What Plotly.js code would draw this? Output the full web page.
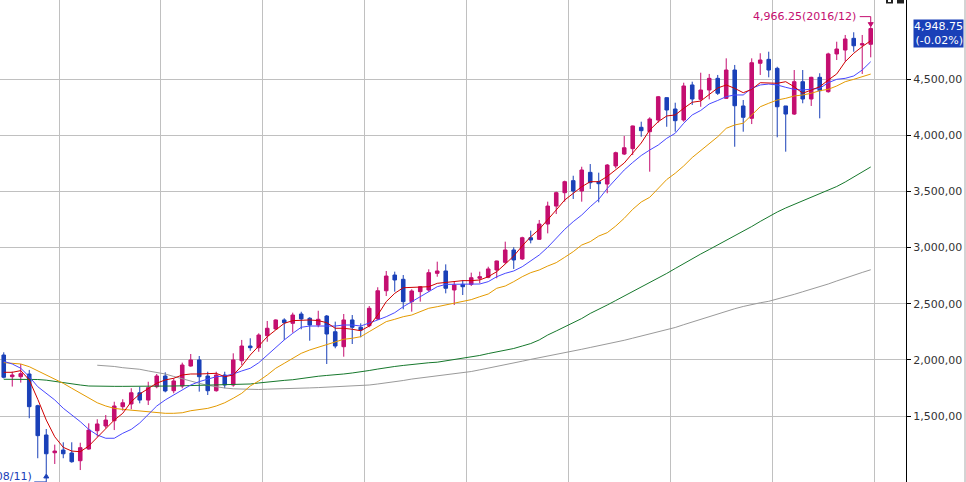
<!DOCTYPE html>
<html><head><meta charset="utf-8">
<script src="https://cdn.plot.ly/plotly-3.0.1.min.js"></script>
<style>html,body{margin:0;padding:0;background:#fff;}#chart{width:966px;height:482px;}</style>
</head><body><div id="chart"></div>
<script>
// Monthly candles, 2008/06 .. 2016/12
const firstYear = 2008, firstMonth = 6;
const openP = [2043,1850,1850,1874,1592,1331,1173,1197,1171,1102, 1206,1369,1411,1458,1583,1607,1707,1642,1761,1856, 1725,1767,1945,1999,1856,1725,1865,1776,1992,2123, 2108,2215,2275,2355,2325,2408,2370,2310,2390,2250, 2117,2355,2290,2304,2364,2615,2755,2717,2518,2607, 2622,2770,2791,2622,2672,2672,2726,2735,2800,2868, 2978,2898,3087,3073,3209,3369,3488,3595,3503,3669, 3586,3565,3726,3832,3880,4070,4031,4135,4334,4233, 4135,4447,4319,4402,4506,4328,4580,4260,4150,4640, 4675,4595,4260,4188,4476,4322,4515,4387,4723,4758, 4862,4803,4809];
const highP = [2067,1895,1963,1910,1600,1384,1245,1266,1266,1262, 1435,1471,1509,1627,1649,1747,1761,1805,1874,1889, 1836,1975,2052,2034,1894,1894,1894,2058,2177,2192, 2236,2346,2360,2370,2420,2428,2380,2437,2399,2340, 2408,2399,2325,2479,2646,2791,2785,2755,2628,2657, 2806,2874,2850,2696,2711,2776,2785,2829,2883,3052, 3002,3096,3150,3245,3408,3497,3595,3639,3719,3743, 3666,3743,3853,3993,4085,4120,4159,4349,4336,4289, 4467,4476,4556,4545,4536,4684,4625,4313,4684,4729, 4743,4609,4260,4580,4580,4520,4551,4734,4832,4892, 4916,4892,4966.25];
const lowP = [1835,1762,1797,1480,1124,984.27,1073,1124,1084,1019, 1200,1316,1390,1375,1547,1560,1613,1598,1747,1711, 1702,1747,1939,1717,1687,1717,1747,1761,1954,2081, 2072,2161,2267,2177,2242,2272,2170,2290,1963,2103, 2028,2141,2201,2290,2355,2568,2607,2450,2429,2518, 2607,2740,2592,2488,2577,2657,2681,2726,2726,2853, 2809,2889,3037,3067,3126,3298,3408,3432,3408,3521, 3402,3483,3705,3823,3823,3986,3675,4111,4075,4031, 4120,4269,4253,4319,4358,4322,3897,4031,4099,4536, 4515,3981,3853,4180,4284,4260,4150,4378,4669,4654, 4743,4545,4693];
const closeP = [1845,1865,1877,1583,1325,1164,1188,1164,1093,1218, 1375,1429,1464,1589,1618,1707,1642,1752,1856,1723, 1812,1954,1999,1850,1725,1865,1776,1999,2123,2108, 2221,2281,2355,2331,2399,2364,2310,2361,2230,2123, 2355,2290,2266,2459,2615,2746,2711,2518,2613,2651, 2776,2791,2637,2666,2651,2731,2740,2809,2880,2978, 2889,3087,3067,3209,3369,3488,3586,3503,3690,3577, 3568,3734,3844,3888,4082,4040,4144,4342,4224,4129, 4438,4322,4402,4506,4373,4580,4262,4159,4645,4669, 4580,4253,4188,4476,4322,4515,4396,4723,4767,4856, 4796,4814,4948.75];
const ma5 = [1889,1889,1904,1821,1649,1464,1315,1221,1188,1182, 1233,1310,1381,1464,1524,1628,1696,1747,1792,1821, 1836,1865,1874,1874,1874,1880,1850,1865,1945,2043, 2123,2206,2266,2325,2349,2355,2355,2349,2331,2281, 2281,2272,2259,2301,2399,2518,2592,2642,2646,2646, 2651,2681,2690,2696,2705,2705,2711,2740,2785,2853, 2924,3014,3096,3162,3245,3334,3423,3483,3541,3586, 3586,3632,3694,3752,3841,3930,4046,4120,4171,4180, 4239,4293,4304,4358,4420,4447,4417,4378,4408,4467, 4467,4462,4476,4431,4373,4402,4431,4491,4545,4654, 4729,4788,4841];
const ma10 = [1987,1963,1925,1850,1761,1702,1643,1569,1509,1450, 1381,1331,1302,1302,1346,1381,1438,1509,1589,1643, 1687,1732,1776,1806,1827,1850,1856,1874,1901,1925, 1974,2043,2117,2177,2236,2290,2301,2301,2301,2301, 2310,2310,2301,2325,2355,2384,2420,2473,2518,2562, 2607,2651,2672,2672,2675,2675,2675,2696,2740,2770, 2791,2829,2883,2933,3002,3082,3162,3230,3289,3363, 3429,3525,3605,3690,3757,3819,3868,3912,3972,4017, 4106,4180,4220,4278,4309,4343,4358,4358,4417,4447, 4455,4447,4426,4408,4402,4408,4417,4467,4497,4506, 4527,4580,4654];
const ma20 = [1975,1969,1963,1939,1903,1865,1827,1791,1747,1702, 1658,1618,1589,1568,1559,1553,1547,1538,1529,1524, 1524,1529,1547,1559,1568,1589,1618,1658,1702,1767, 1812,1865,1925,1969,2014,2058,2088,2112,2132,2161, 2183,2192,2206,2251,2295,2340,2361,2384,2399,2429, 2459,2473,2488,2503,2518,2536,2562,2586,2637,2657, 2696,2740,2776,2800,2835,2865,2913,2963,3022,3052, 3102,3132,3191,3260,3340,3405,3447,3527,3605,3661, 3726,3801,3865,3928,3986,4061,4091,4106,4180,4253, 4284,4313,4328,4349,4358,4373,4396,4408,4438,4476, 4497,4520,4544];
const ma60 = [1827,1827,1827,1827,1825,1819,1807,1796,1785,1776, 1767,1764,1764,1764,1764,1764,1764,1764,1762,1764, 1767,1769,1771,1772,1774,1776,1777,1779,1781,1785, 1794,1803,1810,1817,1823,1834,1846,1854,1861,1865, 1874,1883,1892,1905,1918,1932,1941,1950,1959,1968, 1974,1979,1990,2003,2012,2025,2039,2056,2070,2083, 2101,2123,2145,2177,2221,2257,2292,2328,2368,2413, 2448,2488,2528,2568,2608,2644,2684,2724,2769,2813, 2858,2902,2942,2982,3022,3062,3102,3143,3187,3232, 3276,3316,3352,3383,3414,3445,3476,3507,3543,3583, 3628,3672,3717];
const ma120 = [null,null,null,null,null,null,null,null,null,null, null,1952,1948,1941,1930,1923,1916,1901,1888,1874, 1852,1831,1807,1791,1773,1760,1749,1742,1738,1735, 1736,1739,1740,1742,1745,1748,1750,1753,1756,1758, 1762,1764,1767,1776,1785,1794,1803,1816,1829,1838, 1847,1856,1865,1874,1883,1896,1911,1925,1941,1956, 1972,1988,2004,2018,2034,2049,2064,2079,2094,2110, 2125,2141,2157,2174,2193,2212,2230,2248,2266,2288, 2313,2337,2364,2388,2413,2435,2455,2475,2493,2508, 2521,2540,2561,2583,2606,2628,2650,2675,2702,2729, 2755,2778,2802];
const yTicks = [1500,2000,2500,3000,3500,4000,4500];
const yTickText = ['1,500,00','2,000,00','2,500,00','3,000,00','3,500,00','4,000,00','4,500,00'];
const lastChangeText = '(-0.02%)';

const MAG = '#c40e70', BLU = '#1a40b8';
const FONT = 'DejaVu Sans';
const n = openP.length;
const idx = openP.map((_, i) => i);
const months = idx.map(i => {
  const m0 = firstMonth - 1 + i;
  const y = firstYear + Math.floor(m0 / 12), m = (m0 % 12) + 1;
  return y + '/' + (m < 10 ? '0' + m : m);
});
const yearStarts = idx.filter(i => months[i].endsWith('/01')).map(i => i - 0.5);
if (months[n-1].endsWith('/12')) yearStarts.push(n - 0.5);

let hiI = 0, loI = 0;
for (let i = 0; i < n; i++) { if (highP[i] > highP[hiI]) hiI = i; if (lowP[i] < lowP[loI]) loI = i; }
const fmt = v => v.toLocaleString('en-US', {minimumFractionDigits: 2, maximumFractionDigits: 2});

const traces = [
  {type:'candlestick', x: idx, open: openP, high: highP, low: lowP, close: closeP, text: months,
   increasing:{line:{color:MAG, width:1}, fillcolor:MAG},
   decreasing:{line:{color:BLU, width:1}, fillcolor:BLU},
   whiskerwidth:0, hoverinfo:'skip'},
  {type:'scatter', mode:'lines', x: idx, y: ma120, line:{color:'#9a9a9a', width:1}, hoverinfo:'skip', connectgaps:false},
  {type:'scatter', mode:'lines', x: idx, y: ma60, line:{color:'#16782c', width:1}, hoverinfo:'skip'},
  {type:'scatter', mode:'lines', x: idx, y: ma20, line:{color:'#e49a00', width:1}, hoverinfo:'skip'},
  {type:'scatter', mode:'lines', x: idx, y: ma10, line:{color:'#4848ff', width:1}, hoverinfo:'skip'},
  {type:'scatter', mode:'lines', x: idx, y: ma5, line:{color:'#d00000', width:1}, hoverinfo:'skip'}
];

const PW = 906, PH = 482;
const px = v => v / PW, py = v => 1 - v / PH;

const layout = {
  width: 966, height: 482,
  margin: {l:0, r:60, t:0, b:0, pad:0},
  paper_bgcolor:'#ffffff', plot_bgcolor:'#ffffff',
  showlegend:false, boxgap:0.4, dragmode:false,
  xaxis: {range:[-0.441, 106.15], tickvals: yearStarts, showticklabels:false, ticks:'',
          showgrid:true, gridcolor:'#c0c0c0', gridwidth:1, zeroline:false, showline:false,
          rangeslider:{visible:false}, fixedrange:true},
  yaxis: {side:'right', range:[912.5, 5203.3], tickvals: yTicks, ticktext: yTickText,
          ticks:'outside', ticklen:4, tickcolor:'#000', showline:true, linecolor:'#000', linewidth:1,
          showgrid:true, gridcolor:'#c0c0c0', gridwidth:1, zeroline:false, fixedrange:true,
          tickfont:{family:FONT, size:11, color:'#333'}},
  annotations: [
    {x: hiI, y: highP[hiI], xref:'x', yref:'y', text: fmt(highP[hiI]) + '(' + months[hiI] + ')',
     xanchor:'right', yanchor:'middle', xshift:-13, yshift:10, showarrow:false,
     font:{family:FONT, size:11, color:MAG}},
    {x: loI, y: lowP[loI], xref:'x', yref:'y', text: fmt(lowP[loI]) + '(' + months[loI] + ')',
     xanchor:'right', yanchor:'middle', xshift:-12, yshift:-3, showarrow:false,
     font:{family:FONT, size:11, color:BLU}},
    {x: 1, y: closeP[n-1], xref:'paper', yref:'y', text: fmt(closeP[n-1]) + '<br>' + lastChangeText,
     xanchor:'left', yanchor:'top', xshift:7, yshift:10, showarrow:false, align:'right',
     bgcolor:BLU, borderpad:0, font:{family:FONT, size:11, color:'#ffffff'}}
  ],
  shapes: [
    {type:'path', xref:'x', yref:'y', xsizemode:'pixel', ysizemode:'pixel', xanchor: hiI, yanchor: highP[hiI],
     path:'M -11,10 L 0,10 L 0,3', line:{color:MAG, width:1}},
    {type:'path', xref:'x', yref:'y', xsizemode:'pixel', ysizemode:'pixel', xanchor: hiI, yanchor: highP[hiI],
     path:'M -2.5,4 L 2.5,4 L 0,0 Z', fillcolor:MAG, line:{color:MAG, width:1}},
    {type:'path', xref:'x', yref:'y', xsizemode:'pixel', ysizemode:'pixel', xanchor: loI, yanchor: lowP[loI],
     path:'M -12,-8 L 0,-8 L 0,-3', line:{color:BLU, width:1}},
    {type:'path', xref:'x', yref:'y', xsizemode:'pixel', ysizemode:'pixel', xanchor: loI, yanchor: lowP[loI],
     path:'M -2.5,-4 L 2.5,-4 L 0,0 Z', fillcolor:BLU, line:{color:BLU, width:1}},
    {type:'line', xref:'paper', yref:'paper', x0:px(965), x1:px(965), y0:0, y1:1, line:{color:'#a8a8a8', width:1}},
    {type:'rect', xref:'paper', yref:'paper', x0:px(886), x1:px(893), y0:py(3.5), y1:1, fillcolor:'#222', line:{width:0}},
    {type:'rect', xref:'paper', yref:'paper', x0:px(888), x1:px(891), y0:py(2), y1:1, fillcolor:'#fff', line:{width:0}},
    {type:'rect', xref:'paper', yref:'paper', x0:px(897), x1:px(904), y0:py(3.5), y1:1, fillcolor:'#222', line:{width:0}}
  ]
};

Plotly.newPlot('chart', traces, layout, {displayModeBar:false, staticPlot:true});
</script>
</body></html>
